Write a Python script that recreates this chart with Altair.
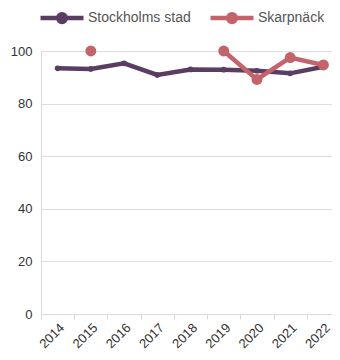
import altair as alt
import pandas as pd

years = ["2014", "2015", "2016", "2017", "2018", "2019", "2020", "2021", "2022"]
stockholm = [93.4, 93.2, 95.3, 90.9, 93.0, 92.9, 92.5, 91.5, 94.0]
skarpnack = [None, 100.0, None, None, None, 100.0, 89.2, 97.5, 94.7]
series = ["Stockholms stad", "Skarpnäck"]
colors = ["#5a3d62", "#c5636c"]

rows = []
for y, v in zip(years, stockholm):
    rows.append({"year": y, "value": v, "series": series[0]})
for y, v in zip(years, skarpnack):
    rows.append({"year": y, "value": v, "series": series[1]})
df = pd.DataFrame(rows)

r = 0.18
legend_symbol = f"M-1,0L1,0M{r},0A{r},{r} 0 1 1 {-r},0A{r},{r} 0 1 1 {r},0Z"

x = alt.X("year:N", title=None,
          scale=alt.Scale(type="band", paddingInner=0, paddingOuter=0),
          axis=alt.Axis(labelAngle=-45, tickBand="extent", labelFontSize=13,
                        labelColor="#333333", domainColor="#d9d9d9", tickColor="#d9d9d9",
                        tickSize=5, labelPadding=2, grid=False))
y = alt.Y("value:Q", title=None,
          scale=alt.Scale(domain=[0, 100]),
          axis=alt.Axis(values=[0, 20, 40, 60, 80, 100], labelFontSize=13,
                        labelColor="#333333", domainColor="#d9d9d9", ticks=False,
                        gridColor="#dedede", labelPadding=9, minExtent=33, maxExtent=33))
color = alt.Color("series:N", title=None,
                  scale=alt.Scale(domain=series, range=colors),
                  legend=alt.Legend(orient="none", direction="horizontal",
                                    legendX=-3, legendY=-57,
                                    labelFontSize=14, labelColor="#555555",
                                    labelOffset=2, columnPadding=10,
                                    symbolType=legend_symbol,
                                    symbolSize=1849, symbolStrokeWidth=4.5))

base = alt.Chart(df).encode(x=x, y=y, color=color)
line = base.mark_line(strokeWidth=4.5)
pts1 = base.mark_circle(opacity=1, size=32).transform_filter(
    alt.datum.series == series[0])
pts2 = base.mark_circle(opacity=1, size=120).transform_filter(
    alt.datum.series == series[1])

chart = alt.layer(line, pts1, pts2).properties(
    width=299, height=263,
    autosize=alt.AutoSizeParams(type="none"),
    padding={"left": 33, "top": 43, "right": -8, "bottom": 45},
).configure_view(stroke=None).configure(font="Liberation Sans")

chart.save("out.html", embed_options={"renderer": "svg", "actions": False})
